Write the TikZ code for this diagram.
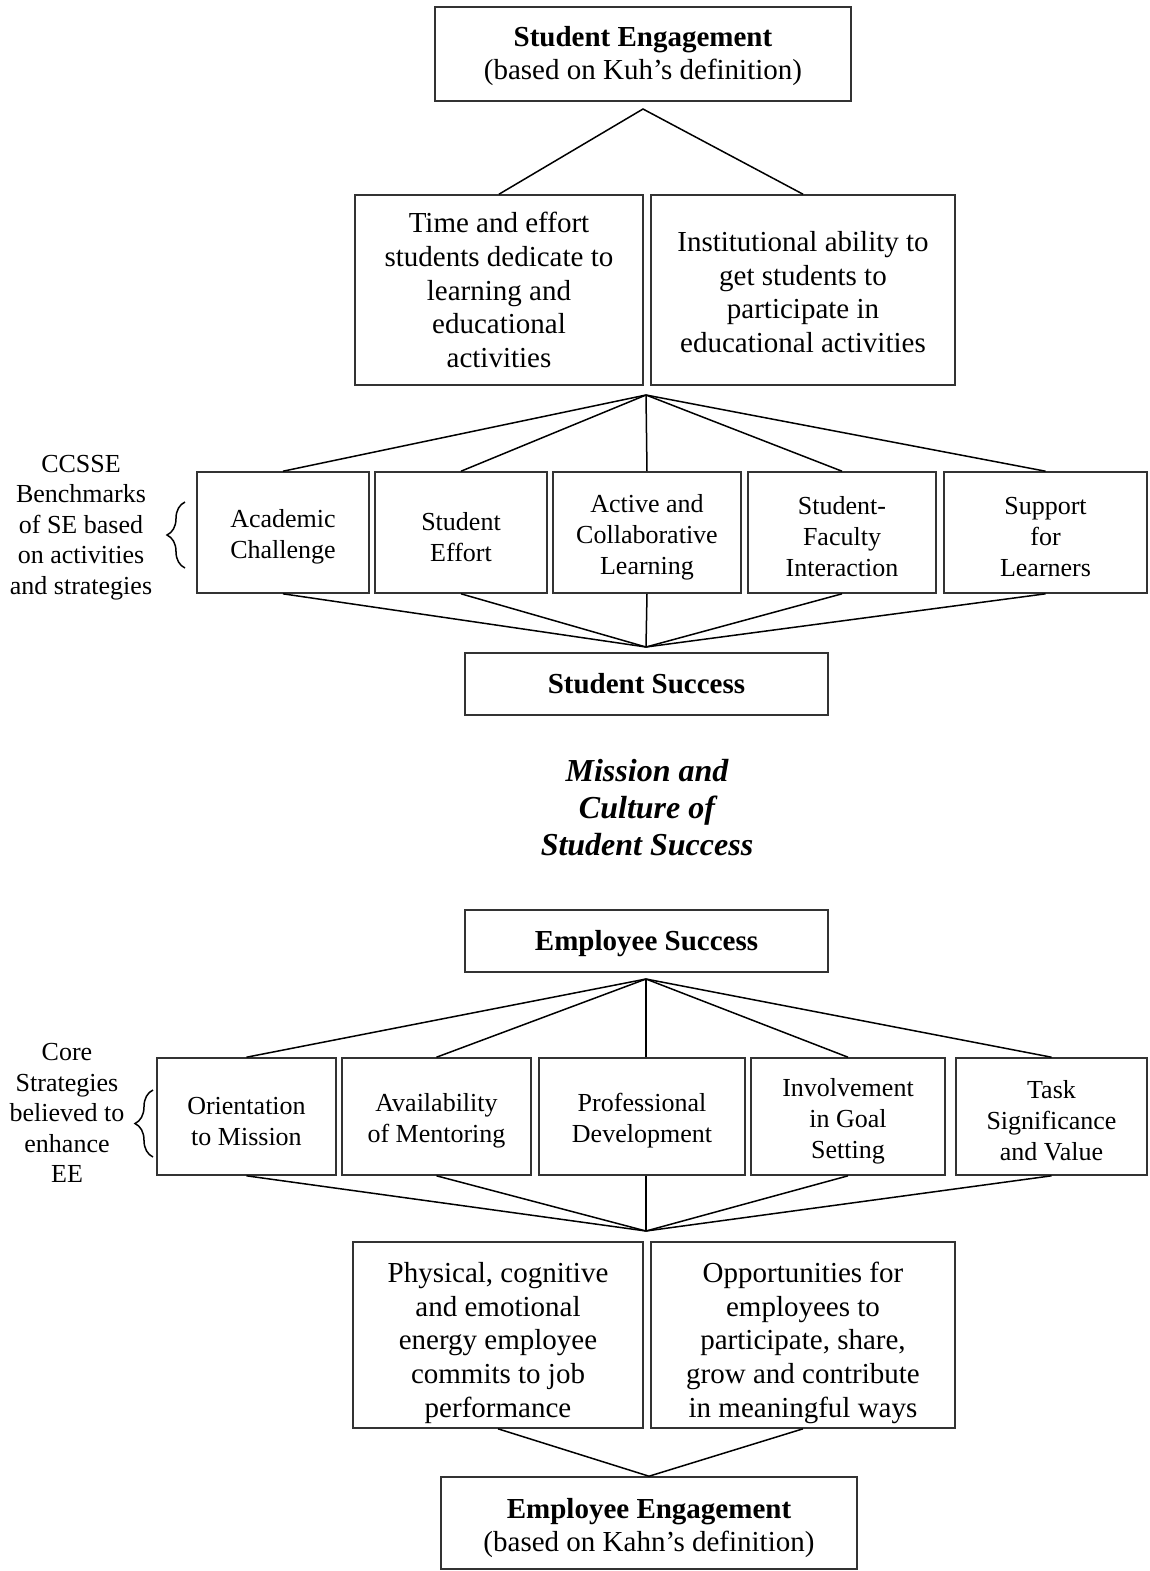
\documentclass[tikz,border=0pt]{standalone}
\usepackage{fontspec}
\setmainfont{Liberation Serif}
\usepackage{tikz}
\usetikzlibrary{decorations.pathreplacing}

% pushes the first line of a box down a little
\newcommand{\dropfirst}[1][13.5pt]{\rule{0pt}{#1}}

\tikzset{
  bigbox/.style={draw=black!80, line width=0.8pt, align=center, inner sep=0pt,
    font=\fontsize{14.5}{16.8}\selectfont},
  smallbox/.style={bigbox, font=\fontsize{13}{15.5}\selectfont},
  sidenote/.style={align=center, inner sep=0pt, font=\fontsize{13}{15.2}\selectfont},
}

\begin{document}
\begin{tikzpicture}[x=0.5pt, y=-0.5pt, line width=0.75pt]
\useasboundingbox (0,0) rectangle (1150,1571);

% student side
\node[bigbox, minimum width=208pt, minimum height=47pt] (kuh) at (643,54)
  {\dropfirst[12pt]\textbf{Student Engagement}\\(based on Kuh’s definition)};
\coordinate (kuhapex) at (643,109);
\node[bigbox, minimum width=144pt, minimum height=95pt] (time) at (499,290)
  {Time and effort\\students dedicate to\\learning and\\educational\\activities};
\node[bigbox, minimum width=152pt, minimum height=95pt] (inst) at (803,290)
  {\dropfirst[12pt]Institutional ability to\\get students to\\participate in\\educational activities};
\draw (time.north) -- (kuhapex) -- (inst.north);

\coordinate (seapex) at (646,395);
\node[smallbox, minimum width=86pt, minimum height=60.5pt] (acad) at (283,532.5)
  {\dropfirst Academic\\Challenge};
\node[smallbox, minimum width=86pt, minimum height=60.5pt] (effort) at (461,532.5)
  {\dropfirst Student\\Effort};
\node[smallbox, minimum width=94pt, minimum height=60.5pt] (active) at (647,532.5)
  {\dropfirst Active and\\Collaborative\\Learning};
\node[smallbox, minimum width=94pt, minimum height=60.5pt] (faculty) at (842,532.5)
  {\dropfirst Student-\\Faculty\\Interaction};
\node[smallbox, minimum width=101.5pt, minimum height=60.5pt] (support) at (1045.5,532.5)
  {\dropfirst Support\\for\\Learners};
\node[sidenote] (ccsse) at (81,527.5)
  {CCSSE\\Benchmarks\\of SE based\\on activities\\and strategies};
\draw[decorate, decoration={brace, amplitude=9pt}] (185,568) -- (185,502);

\coordinate (ssapex) at (646,647);
\foreach \b in {acad,effort,active,faculty,support}
  \draw (seapex) -- (\b.north) (\b.south) -- (ssapex);
\node[bigbox, minimum width=181.5pt, minimum height=31pt] (ssucc) at (646.5,684)
  {\dropfirst[10pt]\textbf{Student Success}};

\node[align=center, inner sep=0pt, font=\fontsize{16}{18.5}\selectfont\bfseries\itshape] (mission) at (647,808)
  {Mission and\\Culture of\\Student Success};

% employee side
\node[bigbox, minimum width=181.5pt, minimum height=31pt] (esucc) at (646.5,941)
  {\dropfirst[13pt]\textbf{Employee Success}};
\coordinate (esapex) at (646,979);
\node[smallbox, minimum width=89.5pt, minimum height=58.5pt] (orient) at (246.5,1116.5)
  {\dropfirst Orientation\\to Mission};
\node[smallbox, minimum width=94.5pt, minimum height=58.5pt] (mentor) at (436.5,1116.5)
  {\dropfirst Availability\\of Mentoring};
\node[smallbox, minimum width=103pt, minimum height=58.5pt] (prof) at (642,1116.5)
  {\dropfirst Professional\\Development};
\node[smallbox, minimum width=97pt, minimum height=58.5pt] (goal) at (848,1116.5)
  {\dropfirst Involvement\\in Goal\\Setting};
\node[smallbox, minimum width=95.5pt, minimum height=58.5pt] (task) at (1051.5,1116.5)
  {\dropfirst Task\\Significance\\and Value};
\node[sidenote] (core) at (67,1113)
  {Core\\Strategies\\believed to\\enhance\\EE};
\draw[decorate, decoration={brace, amplitude=9pt}] (153,1157) -- (153,1090);

\coordinate (eeapex) at (646,1231);
\foreach \b in {orient,mentor,goal,task}
  \draw (esapex) -- (\b.north) (\b.south) -- (eeapex);
\draw (esapex) -- (esapex |- prof.north) (eeapex |- prof.south) -- (eeapex);

\node[bigbox, minimum width=145pt, minimum height=93pt] (energy) at (498,1335)
  {\dropfirst[18pt]Physical, cognitive\\and emotional\\energy employee\\commits to job\\performance};
\node[bigbox, minimum width=152pt, minimum height=93pt] (opport) at (803,1335)
  {\dropfirst[18pt]Opportunities for\\employees to\\participate, share,\\grow and contribute\\in meaningful ways};
\node[bigbox, minimum width=208pt, minimum height=46pt] (kahn) at (649,1523)
  {\dropfirst[15pt]\textbf{Employee Engagement}\\(based on Kahn’s definition)};
\draw (energy.south) -- (kahn.north) -- (opport.south);
\end{tikzpicture}
\end{document}
